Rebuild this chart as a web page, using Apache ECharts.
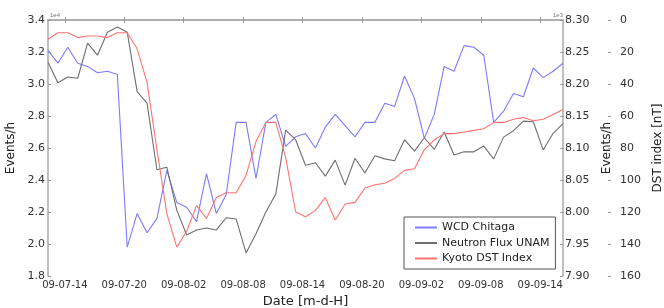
<!DOCTYPE html>
<html>
<head>
<meta charset="utf-8">
<title>WCD Chitaga</title>
<script src="https://cdn.jsdelivr.net/npm/echarts@6/dist/echarts.min.js"></script>
<style>
html,body{margin:0;padding:0;background:#fff;}
#main{width:664px;height:308px;}
</style>
</head>
<body>
<div id="main"></div>
<script>
// first sample 09-07 12:18, one sample per hour
var startHour = 12.3;
var tickHours = [14, 20, 26, 32, 38, 44, 50, 56, 62];

var wcd = [3.21, 3.13, 3.23, 3.13, 3.11, 3.07, 3.08, 3.06, 1.98, 2.19,
           2.07, 2.16, 2.46, 2.26, 2.23, 2.14, 2.44, 2.19, 2.31, 2.76,
           2.76, 2.41, 2.76, 2.81, 2.61, 2.67, 2.69, 2.60, 2.73, 2.81,
           2.74, 2.67, 2.76, 2.76, 2.88, 2.86, 3.05, 2.91, 2.66, 2.81,
           3.11, 3.08, 3.24, 3.23, 3.18, 2.76, 2.83, 2.94, 2.92, 3.10,
           3.04, 3.08, 3.13];
var neutron = [8.234, 8.202, 8.211, 8.209, 8.264, 8.245, 8.281, 8.289, 8.281, 8.188,
               8.170, 8.066, 8.070, 8.003, 7.964, 7.972, 7.975, 7.972, 7.991, 7.989,
               7.936, 7.966, 8.000, 8.028, 8.128, 8.113, 8.073, 8.077, 8.056, 8.081,
               8.042, 8.084, 8.061, 8.088, 8.083, 8.080, 8.113, 8.095, 8.116, 8.098,
               8.125, 8.089, 8.094, 8.094, 8.103, 8.083, 8.117, 8.127, 8.142, 8.141,
               8.097, 8.123, 8.138];
var dst = [12, 8, 8, 11, 10, 10, 11, 8, 8, 18,
           39, 81, 121, 142, 132, 116, 124, 111, 108, 108,
           97, 76, 64, 64, 86, 120, 123, 119, 111, 125,
           115, 114, 105, 103, 102, 99, 94, 93, 81, 75,
           71, 71, 70, 69, 68, 64, 64, 62, 61, 63,
           62, 59, 56];

var hours = [];
for (var i = 0; i < wcd.length; i++) hours.push(startHour + i);

function pairs(v) {
    var out = [];
    for (var i = 0; i < v.length; i++) out.push([hours[i], v[i]]);
    return out;
}
function dateLabel(h) {
    var d = 7 + Math.floor(h / 24);
    var hh = Math.round(h % 24);
    return '09-0' + d + '-' + (hh < 10 ? '0' + hh : hh);
}

var chart = echarts.init(document.getElementById('main'));
var frame = {show: true, lineStyle: {color: '#aaaaaa', width: 1.5}};
var font = 'DejaVu Sans';

var option = {
    animation: false,
    textStyle: {fontFamily: font},
    grid: {left: 48, right: 101, top: 20, bottom: 32, outerBoundsMode: 'none'},
    legend: {
        orient: 'vertical',
        left: 404,
        top: 217,
        padding: [5, 6, 5, 10],
        itemWidth: 22,
        itemHeight: 12,
        itemGap: 4.5,
        borderColor: '#555',
        borderWidth: 1,
        backgroundColor: '#fff',
        itemStyle: {opacity: 0},
        textStyle: {fontSize: 11, color: '#222', fontFamily: font},
        data: ['WCD Chitaga', 'Neutron Flux UNAM', 'Kyoto DST Index']
    },
    xAxis: [{
        type: 'value',
        min: startHour,
        max: startHour + wcd.length - 1,
        name: 'Date [m-d-H]',
        nameLocation: 'middle',
        nameGap: 17,
        nameTextStyle: {fontSize: 13, color: '#222', fontFamily: font},
        axisLine: frame,
        splitLine: {show: false},
        axisTick: {inside: true, length: 3, lineStyle: {color: '#999'}, customValues: tickHours},
        axisLabel: {fontSize: 10, color: '#333', margin: 4, customValues: tickHours, formatter: dateLabel}
    }, {
        type: 'value',
        position: 'top',
        min: startHour,
        max: startHour + wcd.length - 1,
        axisLine: frame,
        splitLine: {show: false},
        axisTick: {inside: true, length: 3, lineStyle: {color: '#999'}, customValues: tickHours},
        axisLabel: {show: false}
    }],
    yAxis: [{
        type: 'value',
        min: 1.8, max: 3.4, interval: 0.2,
        name: 'Events/h',
        nameLocation: 'middle',
        nameGap: 24,
        nameTextStyle: {fontSize: 12, color: '#222', fontFamily: font},
        axisLine: frame,
        splitLine: {show: false},
        axisTick: {inside: true, length: 3, lineStyle: {color: '#999'}},
        axisLabel: {fontSize: 11, color: '#333', margin: 3, formatter: function (v) { return v.toFixed(1); }}
    }, {
        type: 'value',
        position: 'right',
        min: 7.90, max: 8.30, interval: 0.05,
        name: 'Events/h',
        nameLocation: 'middle',
        nameGap: 30,
        nameTextStyle: {fontSize: 12, color: '#222', fontFamily: font},
        axisLine: frame,
        splitLine: {show: false},
        axisTick: {inside: true, length: 3, lineStyle: {color: '#999'}},
        axisLabel: {fontSize: 11, color: '#333', margin: 2, formatter: function (v) { return v.toFixed(2); }}
    }, {
        type: 'value',
        position: 'right',
        offset: 45,
        inverse: true,
        min: 0, max: 160, interval: 20,
        name: 'DST index [nT]',
        nameLocation: 'middle',
        nameGap: 43,
        nameTextStyle: {fontSize: 12, color: '#222', fontFamily: font},
        axisLine: {show: false},
        splitLine: {show: false},
        axisTick: {show: true, length: 3, lineStyle: {color: '#999'}},
        axisLabel: {fontSize: 11, color: '#333', margin: 12}
    }],
    graphic: [
        {type: 'text', left: 50, top: 12, style: {text: '1e4', fontSize: 6, fill: '#777'}},
        {type: 'text', left: 553, top: 12, style: {text: '1e3', fontSize: 6, fill: '#777'}}
    ],
    series: [{
        name: 'WCD Chitaga',
        type: 'line',
        yAxisIndex: 0,
        symbol: 'none',
        color: '#7b7bff',
        lineStyle: {width: 1.1},
        data: pairs(wcd)
    }, {
        name: 'Neutron Flux UNAM',
        type: 'line',
        yAxisIndex: 1,
        symbol: 'none',
        color: '#6e6e6e',
        lineStyle: {width: 1.1},
        data: pairs(neutron)
    }, {
        name: 'Kyoto DST Index',
        type: 'line',
        yAxisIndex: 2,
        symbol: 'none',
        color: '#ff7272',
        lineStyle: {width: 1.1},
        data: pairs(dst)
    }]
};
chart.setOption(option);
</script>
</body>
</html>
